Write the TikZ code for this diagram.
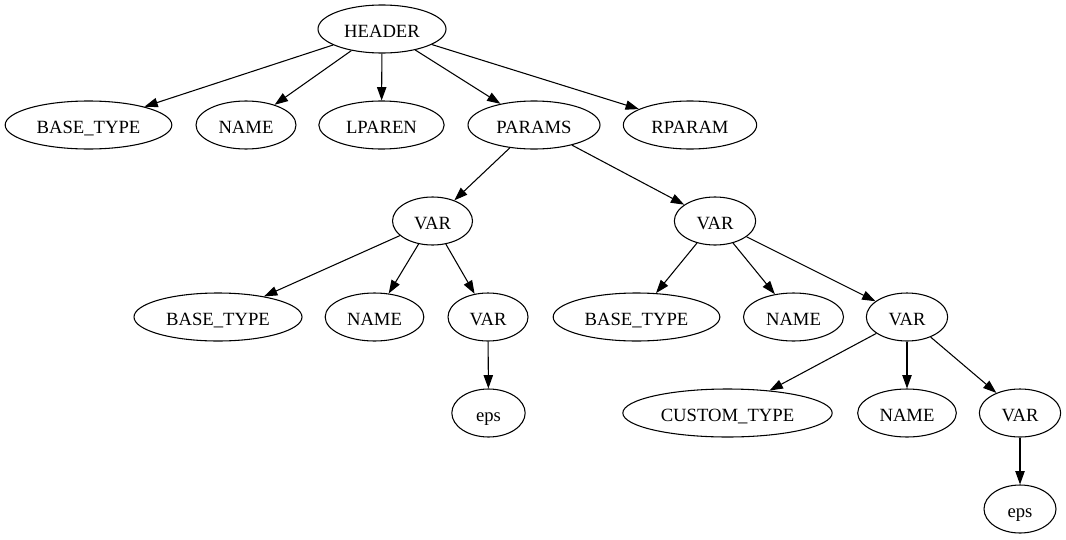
\documentclass[tikz,border=0pt]{standalone}
\usepackage{fontspec}
\setmainfont{Liberation Serif}
\usetikzlibrary{shapes.geometric,arrows.meta}

\begin{document}
\begin{tikzpicture}[x=0.75pt,y=-0.75pt,
  tok/.style={ellipse,draw,line width=0.8pt,inner sep=0pt,minimum height=36pt,text height=14pt,text depth=1.7pt,font=\fontsize{14}{16}\selectfont},
  edge/.style={line width=0.8pt,-{Triangle[length=10pt,width=7pt]}}]
\useasboundingbox (0,0) rectangle (1066,539);
\node[tok,minimum width=96pt] (hdr) at (382,29) {HEADER};

\node[tok,minimum width=125pt] (bt1) at (88.5,125) {BASE\_TYPE};
\node[tok,minimum width=75pt] (nm1) at (246,125) {NAME};
\node[tok,minimum width=94pt] (lp) at (381.5,125) {LPAREN};
\node[tok,minimum width=99pt] (prm) at (534,125) {PARAMS};
\node[tok,minimum width=100pt] (rp) at (690,125) {RPARAM};

\node[tok,minimum width=60pt] (var1) at (432.5,221) {VAR};
\node[tok,minimum width=61pt] (var2) at (715,221) {VAR};

\node[tok,minimum width=126pt] (bt2) at (218,317) {BASE\_TYPE};
\node[tok,minimum width=74pt] (nm2) at (374.5,317) {NAME};
\node[tok,minimum width=60pt] (var3) at (488,317) {VAR};
\node[tok,minimum width=125pt] (bt3) at (636.5,317) {BASE\_TYPE};
\node[tok,minimum width=75pt] (nm3) at (793.5,317) {NAME};
\node[tok,minimum width=61pt] (var4) at (907,317) {VAR};

\node[tok,minimum width=55pt] (eps1) at (488.5,413) {eps};
\node[tok,minimum width=157pt] (ct) at (727.5,413) {CUSTOM\_TYPE};
\node[tok,minimum width=74pt] (nm4) at (907,413) {NAME};
\node[tok,minimum width=61pt] (var5) at (1020,413) {VAR};

\node[tok,minimum width=54pt] (eps2) at (1020,509) {eps};

\draw[edge] (hdr)--(bt1);
\draw[edge] (hdr)--(nm1);
\draw[edge] (hdr)--(lp);
\draw[edge] (hdr)--(prm);
\draw[edge] (hdr)--(rp);
\draw[edge] (prm)--(var1);
\draw[edge] (prm)--(var2);
\draw[edge] (var1)--(bt2);
\draw[edge] (var1)--(nm2);
\draw[edge] (var1)--(var3);
\draw[edge] (var3)--(eps1);
\draw[edge] (var2)--(bt3);
\draw[edge] (var2)--(nm3);
\draw[edge] (var2)--(var4);
\draw[edge] (var4)--(ct);
\draw[edge] (var4)--(nm4);
\draw[edge] (var4)--(var5);
\draw[edge] (var5)--(eps2);
\end{tikzpicture}
\end{document}
